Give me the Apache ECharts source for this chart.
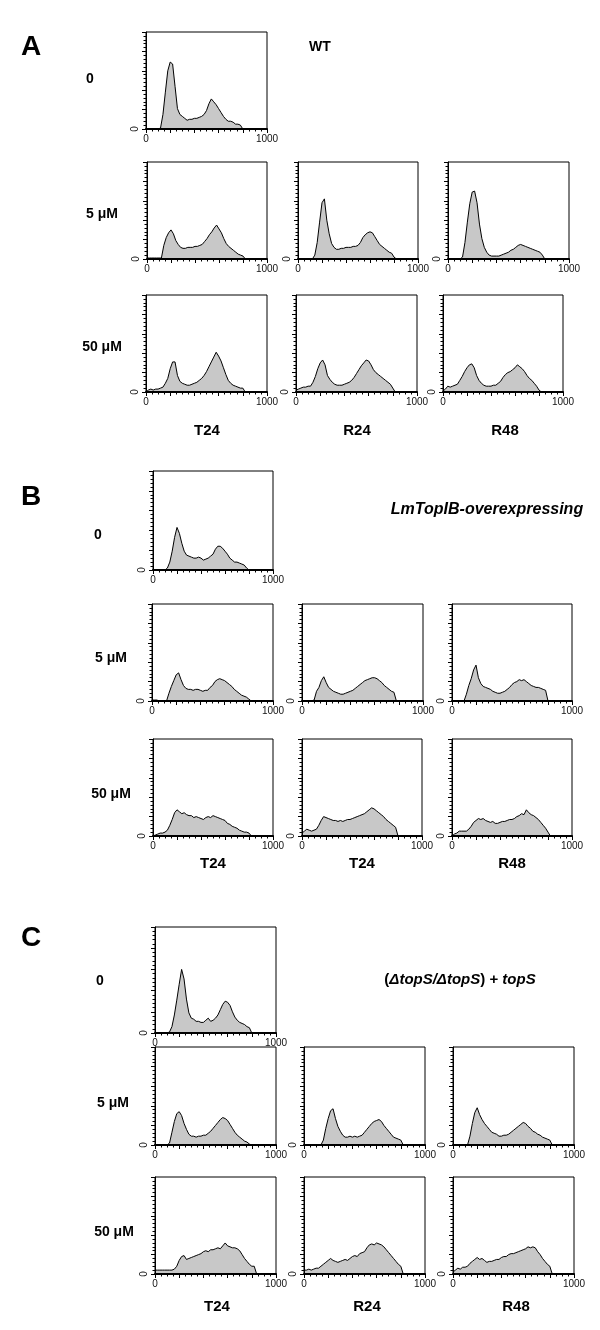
<!DOCTYPE html>
<html><head><meta charset="utf-8">
<script src="https://cdn.jsdelivr.net/npm/echarts@6/dist/echarts.min.js"></script>
<style>html,body{margin:0;padding:0;background:#fff}#c{width:600px;height:1330px}</style>
</head><body><div id="c"></div>
<script>
// ---- data (channel 0..1000, step 20) ----
const CHANNELS = [0,20,40,60,80,100,120,140,160,180,200,220,240,260,280,300,320,340,360,380,400,420,440,460,480,500,520,540,560,580,600,620,640,660,680,700,720,740,760,780,800,820,840,860,880,900,920,940,960,980,1000];

const A_0      = [0,0,0,0,0,0,1,15,38,60, 69,67,44,21,15,13,11,9,10,10, 11,11,12,13,15,19,26,31,28,25, 21,17,13,10,8,8,7,5,5,4, 0,0,0,0,0,0,0,0,0,0,0];
const A_5_T24  = [1,1,1,1,1,1,1,14,22,27, 30,26,19,15,12,11,11,12,12,12, 13,13,14,15,18,21,25,28,32,35, 31,27,21,16,13,11,9,7,5,4, 3,0,0,0,0,0,0,0,0,0,0];
const A_5_R24  = [0,0,0,0,0,0,0,4,17,38, 58,62,40,26,16,12,10,10,11,11, 12,12,12,13,13,14,17,22,25,27, 28,27,23,19,15,13,11,9,7,6, 2,0,0,0,0,0,0,0,0,0,0];
const A_5_R48  = [0,0,0,0,0,0,2,17,38,57, 69,70,58,36,21,12,7,4,3,3, 3,3,4,5,6,7,9,10,12,14, 15,14,13,12,11,10,9,8,7,4, 0,0,0,0,0,0,0,0,0,0,0];
const A_50_T24 = [0,2,3,2,3,3,4,5,9,14, 24,31,31,17,11,9,8,7,7,8, 9,10,12,14,17,21,26,31,36,41, 37,32,25,18,12,9,7,6,5,4, 4,0,0,0,0,0,0,0,0,0,0];
const A_50_R24 = [2,3,4,5,5,6,6,10,16,24, 30,33,28,17,13,10,8,7,7,7, 8,9,10,12,15,19,23,27,30,33, 32,28,23,20,18,16,14,12,10,8, 4,0,0,0,0,0,0,0,0,0,0];
const A_50_R48 = [1,3,6,5,6,7,8,12,16,21, 25,28,29,25,17,12,9,7,6,6, 6,7,7,9,11,15,18,20,21,23, 25,28,26,24,21,17,14,12,9,6, 2,0,0,0,0,0,0,0,0,0,0];

const B_0      = [0,0,0,0,0,0,2,8,19,33, 43,37,27,19,15,14,13,12,12,13, 12,10,11,12,14,16,21,24,24,22, 19,16,12,10,8,8,7,6,5,2, 0,0,0,0,0,0,0,0,0,0,0];
const B_5_T24  = [1,1,1,0,0,0,0,8,15,21, 27,29,22,16,13,12,12,11,12,12, 11,10,11,11,14,16,20,22,23,22, 21,19,17,15,12,10,8,6,5,4, 2,0,0,0,0,0,0,0,0,0,0];
const B_5_T24b = [0,0,0,0,0,1,10,14,21,25, 19,14,12,10,9,8,7,7,8,9, 10,11,13,15,17,19,21,22,23,24, 24,23,21,19,16,14,12,10,9,0, 0,0,0,0,0,0,0,0,0,0,0];
const B_5_R48  = [0,0,0,0,0,0,7,16,23,32, 37,24,18,15,14,13,12,10,9,8, 8,9,10,12,14,17,19,20,22,21, 22,20,18,16,15,14,14,13,12,11, 0,0,0,0,0,0,0,0,0,0,0];
const B_50_T24 = [0,1,2,3,3,4,6,11,17,24, 27,25,23,24,22,21,21,19,20,19, 18,17,19,20,19,21,20,19,18,17, 16,13,12,10,9,8,6,5,4,4, 3,0,0,0,0,0,0,0,0,0,0];
const B_50_T24b= [3,5,7,6,5,6,7,11,16,20, 19,18,17,16,16,15,16,15,16,17, 17,18,19,20,21,22,23,25,27,29, 28,26,24,22,20,17,15,13,11,9, 0,0,0,0,0,0,0,0,0,0,0];
const B_50_R48 = [0,2,3,5,5,5,5,7,10,14, 16,18,17,18,16,15,14,15,13,13, 14,15,15,16,17,17,18,20,21,23, 22,27,24,22,21,19,17,14,11,8, 4,0,0,0,0,0,0,0,0,0,0];

const C_0      = [0,0,0,0,0,0,1,6,17,31, 46,60,51,32,19,14,13,11,11,10, 10,12,14,11,12,14,17,22,27,30, 29,26,20,15,12,10,9,8,6,5, 0,0,0,0,0,0,0,0,0,0,0];
const C_5_T24  = [0,0,0,0,0,0,2,13,24,32, 34,30,22,16,11,9,9,8,9,9, 10,10,12,14,17,20,23,26,28,27, 25,21,17,13,10,8,6,4,3,1, 0,0,0,0,0,0,0,0,0,0,0];
const C_5_R24  = [0,0,0,0,0,0,0,0,5,17, 27,35,37,27,19,14,10,8,8,9, 8,9,8,9,10,13,16,19,22,24, 25,26,24,20,17,14,11,8,7,6, 5,0,0,0,0,0,0,0,0,0,0];
const C_5_R48  = [0,0,0,0,0,0,0,9,22,33, 38,31,26,22,19,16,13,12,11,9, 9,10,10,11,13,15,17,19,21,23, 22,19,17,14,13,11,10,8,7,6, 5,0,0,0,0,0,0,0,0,0,0];
const C_50_T24 = [4,4,4,4,4,4,4,4,5,8, 14,18,19,15,16,17,18,19,20,21, 23,24,23,25,25,26,27,26,29,32, 29,28,27,27,26,24,20,16,13,10, 8,8,0,0,0,0,0,0,0,0,0];
const C_50_R24 = [4,4,5,4,5,6,6,8,10,12, 14,16,14,13,12,13,14,15,14,16, 18,19,18,21,22,23,27,30,31,30, 32,31,30,28,25,22,19,16,13,10, 8,0,0,0,0,0,0,0,0,0,0];
const C_50_R48 = [2,4,6,5,7,7,8,11,13,15, 17,15,16,14,12,13,13,14,15,15, 17,18,18,20,21,21,22,23,24,25, 26,28,27,28,27,23,20,16,13,10, 8,0,0,0,0,0,0,0,0,0,0];

// ---- text ----
const PANEL_LETTERS = ['A','B','C'];
const ROW_LABELS = ['0','5 \u03BCM','50 \u03BCM'];
const COL_LABELS_A = ['T24','R24','R48'];
const COL_LABELS_B = ['T24','T24','R48'];
const COL_LABELS_C = ['T24','R24','R48'];
const X_TICK_LABELS = [0, 1000];
const Y_TICK_LABELS = [0];

// ---- layout (pixels) ----
const PLOTS = [
  {d:A_0,      box:[146,32,121,97]},
  {d:A_5_T24,  box:[147,162,120,97]},
  {d:A_5_R24,  box:[298,162,120,97]},
  {d:A_5_R48,  box:[448,162,121,97]},
  {d:A_50_T24, box:[146,295,121,97]},
  {d:A_50_R24, box:[296,295,121,97]},
  {d:A_50_R48, box:[443,295,120,97]},
  {d:B_0,      box:[153,471,120,99]},
  {d:B_5_T24,  box:[152,604,121,97]},
  {d:B_5_T24b, box:[302,604,121,97]},
  {d:B_5_R48,  box:[452,604,120,97]},
  {d:B_50_T24, box:[153,739,120,97]},
  {d:B_50_T24b,box:[302,739,120,97]},
  {d:B_50_R48, box:[452,739,120,97]},
  {d:C_0,      box:[155,927,121,106]},
  {d:C_5_T24,  box:[155,1047,121,98]},
  {d:C_5_R24,  box:[304,1047,121,98]},
  {d:C_5_R48,  box:[453,1047,121,98]},
  {d:C_50_T24, box:[155,1177,121,97]},
  {d:C_50_R24, box:[304,1177,121,97]},
  {d:C_50_R48, box:[453,1177,121,97]}
];

const FONT = "'Liberation Sans', Arial, sans-serif";
const grids = [], xAxes = [], yAxes = [], series = [];
PLOTS.forEach((p, i) => {
  const [l, t, w, h] = p.box;
  grids.push({left:l, top:t, width:w, height:h, show:true, borderColor:'#000', borderWidth:1, backgroundColor:'transparent'});
  xAxes.push({
    gridIndex:i, type:'value', min:0, max:1000, interval:200, z:5,
    axisLine:{show:true, onZero:false, lineStyle:{color:'#000', width:2}},
    axisTick:{show:true, length:4, lineStyle:{color:'#000', width:1}},
    minorTick:{show:true, splitNumber:4, length:2.5, lineStyle:{color:'#000', width:1}},
    splitLine:{show:false}, minorSplitLine:{show:false},
    axisLabel:{show:true, margin:5, fontSize:10, color:'#111', fontFamily:FONT,
      formatter: v => X_TICK_LABELS.indexOf(v) >= 0 ? String(v) : ''}
  });
  yAxes.push({
    gridIndex:i, type:'value', min:0, max:100, interval:20, z:5,
    axisLine:{show:true, onZero:false, lineStyle:{color:'#000', width:1}},
    axisTick:{show:true, length:4, lineStyle:{color:'#000', width:1}},
    minorTick:{show:true, splitNumber:5, length:2.5, lineStyle:{color:'#000', width:1}},
    splitLine:{show:false}, minorSplitLine:{show:false},
    axisLabel:{show:true, rotate:90, margin:6, fontSize:10, color:'#111', fontFamily:FONT,
      formatter: v => Y_TICK_LABELS.indexOf(v) >= 0 ? String(v) : ''}
  });
  series.push({
    type:'line', xAxisIndex:i, yAxisIndex:i, silent:true, animation:false,
    symbol:'none', showSymbol:false, z:2,
    data: CHANNELS.map((x, k) => [x, p.d[k]]),
    lineStyle:{color:'#000', width:1},
    areaStyle:{color:'#c8c8c8', opacity:1}
  });
});

function txt(text, x, y, font, extra) {
  return Object.assign({type:'text', x:x, y:y, silent:true, z:10,
    style:{text:text, font:font, fill:'#000', align:'center', verticalAlign:'middle', textAlign:'center', textVerticalAlign:'middle'}}, extra || {});
}
const bold = s => 'bold ' + s + 'px ' + FONT;
const graphics = [
  txt(PANEL_LETTERS[0], 31, 47, bold(28)),
  txt(PANEL_LETTERS[1], 31, 497, bold(28)),
  txt(PANEL_LETTERS[2], 31, 938, bold(28)),
  txt('WT', 320, 47, bold(14)),
  txt('LmTopIB-overexpressing', 487, 510, 'italic bold 16px ' + FONT),
  {type:'text', x:460, y:980, silent:true, z:10, style:{
    text:'{n|(}{i|\u0394topS/\u0394topS}{n|) + }{i|topS}', align:'center', verticalAlign:'middle', textAlign:'center', textVerticalAlign:'middle',
    rich:{n:{font:bold(15), fill:'#000'}, i:{font:'italic bold 15px ' + FONT, fill:'#000'}}}},
  // row labels
  txt(ROW_LABELS[0], 90, 79, bold(14)),
  txt(ROW_LABELS[1], 102, 214, bold(14)),
  txt(ROW_LABELS[2], 102, 347, bold(14)),
  txt(ROW_LABELS[0], 98, 535, bold(14)),
  txt(ROW_LABELS[1], 111, 658, bold(14)),
  txt(ROW_LABELS[2], 111, 794, bold(14)),
  txt(ROW_LABELS[0], 100, 981, bold(14)),
  txt(ROW_LABELS[1], 113, 1103, bold(14)),
  txt(ROW_LABELS[2], 114, 1232, bold(14)),
  // column labels
  txt(COL_LABELS_A[0], 207, 431, bold(15)),
  txt(COL_LABELS_A[1], 357, 431, bold(15)),
  txt(COL_LABELS_A[2], 505, 431, bold(15)),
  txt(COL_LABELS_B[0], 213, 864, bold(15)),
  txt(COL_LABELS_B[1], 362, 864, bold(15)),
  txt(COL_LABELS_B[2], 512, 864, bold(15)),
  txt(COL_LABELS_C[0], 217, 1307, bold(15)),
  txt(COL_LABELS_C[1], 367, 1307, bold(15)),
  txt(COL_LABELS_C[2], 516, 1307, bold(15))
];

const chart = echarts.init(document.getElementById('c'), null, {renderer:'canvas'});
chart.setOption({
  animation:false,
  backgroundColor:'#fff',
  grid:grids, xAxis:xAxes, yAxis:yAxes, series:series,
  graphic:{elements:graphics}
});
</script>
</body></html>
